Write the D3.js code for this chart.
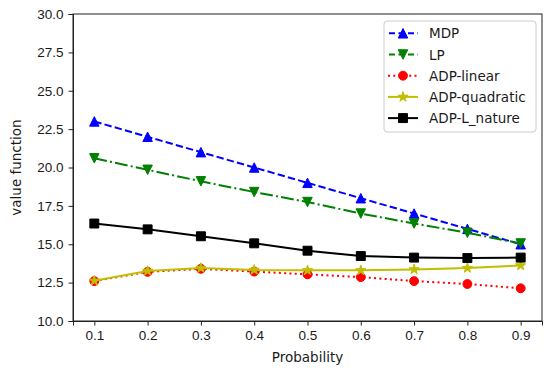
<!DOCTYPE html>
<html>
<head>
<meta charset="utf-8">
<script src="https://cdn.jsdelivr.net/npm/d3@7"></script>
<style>
  body { margin: 0; background: #fff; }
  svg { font-family: "DejaVu Sans", sans-serif; }
  .axis text { font-size: 13.5px; fill: #1a1a1a; }
  .axis path, .axis line { stroke: #222; }
</style>
</head>
<body>
<svg id="chart" width="550" height="375"></svg>
<script>
// x values (probability)
const probs = [0.1, 0.2, 0.3, 0.4, 0.5, 0.6, 0.7, 0.8, 0.9];

// series values
const mdp = [23.0, 22.0, 21.0, 20.0, 19.0, 18.0, 17.0, 16.0, 15.0];
const lp = [20.6, 19.85, 19.1, 18.4, 17.75, 17.0, 16.35, 15.75, 15.05];
const adpLinear = [12.6, 13.2, 13.4, 13.22, 13.04, 12.86, 12.6, 12.41, 12.13];
const adpQuadratic = [12.62, 13.26, 13.45, 13.33, 13.3, 13.3, 13.36, 13.45, 13.62];
const adpLNature = [16.35, 15.97, 15.52, 15.06, 14.58, 14.23, 14.13, 14.1, 14.13];

const yTicks = [10.0, 12.5, 15.0, 17.5, 20.0, 22.5, 25.0, 27.5, 30.0];

// matplotlib-like triangle: centred on its bounding box, not the centroid
const triUp = {
  draw(ctx, size) {
    let r = Math.sqrt(size) / 2;
    ctx.moveTo(0, -r);
    ctx.lineTo(r, r);
    ctx.lineTo(-r, r);
    ctx.closePath();
  }
};

const series = [
  { name: 'MDP', values: mdp, color: '#0000ff', dash: '7.4,3.2', symbol: triUp, rot: 0, size: 90 },
  { name: 'LP', values: lp, color: '#008000', dash: '12.8,3.2,2,3.2', symbol: triUp, rot: 180, size: 90 },
  { name: 'ADP-linear', values: adpLinear, color: '#ff0000', dash: '2,3.3', symbol: d3.symbolCircle, rot: 0, size: 62 },
  { name: 'ADP-quadratic', values: adpQuadratic, color: '#bfbf00', dash: null, symbol: d3.symbolStar, rot: 0, size: 32 },
  { name: 'ADP-L_nature', values: adpLNature, color: '#000000', dash: null, symbol: d3.symbolSquare, rot: 0, size: 80 }
];

const svg = d3.select('#chart');
const mLeft = 73, mRight = 542, mTop = 14, mBottom = 321;

let xScale = d3.scaleLinear()
  .domain([0.06, 0.94])
  .range([mLeft, mRight]);

let yScale = d3.scaleLinear()
  .domain([10, 30])
  .range([mBottom, mTop]);

// AXES
svg.append('g')
  .attr('class', 'axis')
  .attr('transform', `translate(0, ${mBottom})`)
  .call(d3.axisBottom(xScale).tickValues(probs).tickFormat(d3.format('.1f')).tickSizeOuter(0).tickSize(4.5).tickPadding(5));

svg.append('g')
  .attr('class', 'axis')
  .attr('transform', `translate(${mLeft}, 0)`)
  .call(d3.axisLeft(yScale).tickValues(yTicks).tickFormat(d3.format('.1f')).tickSizeOuter(0).tickSize(4.5).tickPadding(5));

// frame (top + right spines)
svg.append('rect')
  .attr('x', mLeft).attr('y', mTop)
  .attr('width', mRight - mLeft).attr('height', mBottom - mTop)
  .attr('fill', 'none').attr('stroke', '#222').attr('stroke-width', 1);

// lines
let line = d3.line()
  .x((d, i) => xScale(probs[i]))
  .y((d) => yScale(d));

series.forEach((s) => {
  svg.append('path')
    .datum(s.values)
    .attr('d', line)
    .attr('fill', 'none')
    .attr('stroke', s.color)
    .attr('stroke-width', 2)
    .attr('stroke-dasharray', s.dash);

  svg.selectAll(null)
    .data(s.values)
    .enter()
    .append('path')
    .attr('d', d3.symbol().type(s.symbol).size(s.size))
    .attr('transform', (d, i) => `translate(${xScale(probs[i])},${yScale(d)}) rotate(${s.rot})`)
    .attr('fill', s.color)
    .attr('stroke', s.color)
    .attr('stroke-width', 1);
});

// axis labels
svg.append('text')
  .attr('x', (mLeft + mRight) / 2)
  .attr('y', 362)
  .attr('text-anchor', 'middle')
  .attr('font-size', '13.5px')
  .attr('fill', '#1a1a1a')
  .text('Probability');

svg.append('text')
  .attr('transform', `translate(21, ${(mTop + mBottom) / 2}) rotate(-90)`)
  .attr('text-anchor', 'middle')
  .attr('font-size', '13.5px')
  .attr('fill', '#1a1a1a')
  .text('value function');

// legend
let legend = svg.append('g');
legend.append('rect')
  .attr('x', 384).attr('y', 21)
  .attr('width', 152).attr('height', 111)
  .attr('rx', 3)
  .attr('fill', '#fff').attr('fill-opacity', 0.8)
  .attr('stroke', '#ccc');

series.forEach((s, i) => {
  let y = 33.3 + i * 21.2;
  legend.append('line')
    .attr('x1', 388).attr('x2', 418)
    .attr('y1', y).attr('y2', y)
    .attr('stroke', s.color)
    .attr('stroke-width', 2)
    .attr('stroke-dasharray', s.dash ? (s.name === 'ADP-linear' ? '2,3.3' : '6,3.5') : null)
    .attr('stroke-dashoffset', s.name === 'ADP-linear' ? 0 : -1);
  legend.append('path')
    .attr('d', d3.symbol().type(s.symbol).size(s.size))
    .attr('transform', `translate(403,${y}) rotate(${s.rot})`)
    .attr('fill', s.color)
    .attr('stroke', s.color);
  legend.append('text')
    .attr('x', 429).attr('y', y + 5)
    .attr('font-size', '13.5px')
    .attr('fill', '#1a1a1a')
    .text(s.name);
});
</script>
</body>
</html>
